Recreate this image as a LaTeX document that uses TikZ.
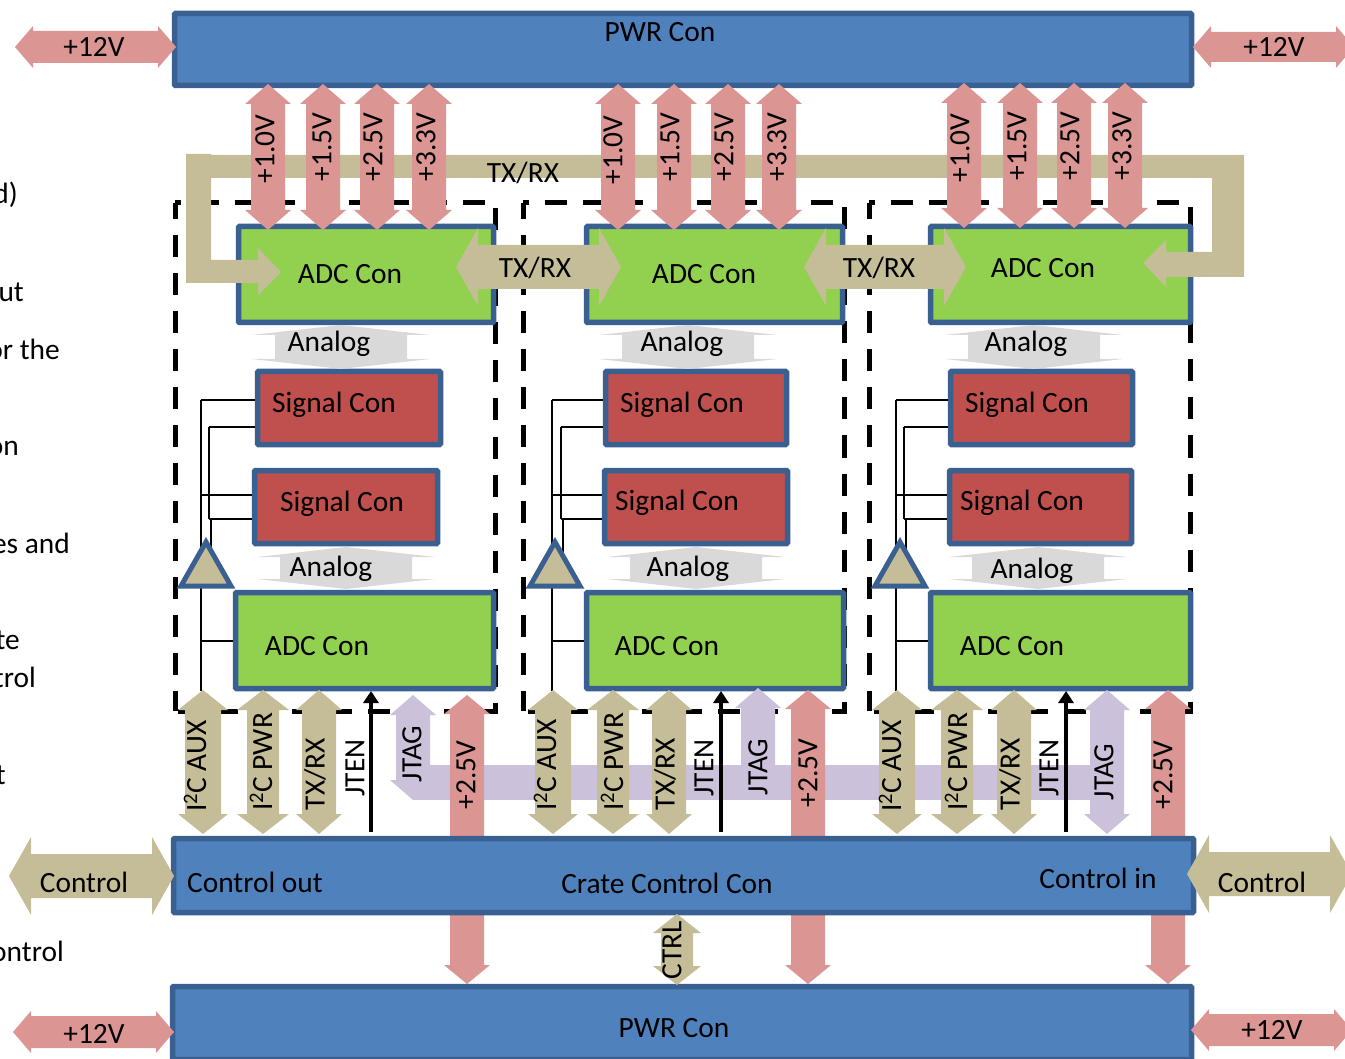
\documentclass[tikz,border=0pt]{standalone}
\usepackage{fontspec}
\setmainfont{Carlito}
\usetikzlibrary{arrows.meta}

\definecolor{conblue}{HTML}{4F81BD}
\definecolor{conedge}{HTML}{3A6091}
\definecolor{adcgreen}{HTML}{92D050}
\definecolor{sigred}{HTML}{C0504D}
\definecolor{pwrpink}{HTML}{DB9694}
\definecolor{bustan}{HTML}{C4BD97}
\definecolor{jtaglilac}{HTML}{CCC1DA}
\definecolor{analoggrey}{HTML}{D9D9D9}

\tikzset{
	conbox/.style={draw=conedge, line width=5.5pt, rounded corners=1pt, inner sep=0pt, outer sep=2.5pt},
	pwrbox/.style={conbox, fill=conblue},
	adcbox/.style={conbox, fill=adcgreen},
	sigbox/.style={conbox, fill=sigred},
	wire/.style={black, line width=2pt},
	slotline/.style={black, line width=5pt, dash pattern=on 22pt off 16pt},
	jtenline/.style={black, line width=4.5pt, -{Triangle[width=15pt,length=12pt]}},
	ampshape/.style={draw=conedge, fill=bustan, line width=5pt, miter limit=10}
}

% outer box: name, style, x1, y1, x2, y2
\newcommand{\conblock}[6]{
	\node[#2, minimum width={#5-#3-5}, minimum height={#6-#4-5}] (#1) at ({(#3+#5)/2},{(#4+#6)/2}) {};
}
% vertical arrow: x, top, bottom, shaft, head, head length, colour
\newcommand{\vboth}[7]{
	\fill[#7] (#1,#2) -- ({#1+#5},{#2+#6}) -- ({#1+#4},{#2+#6}) -- ({#1+#4},{#3-#6}) -- ({#1+#5},{#3-#6}) -- (#1,#3)
		-- ({#1-#5},{#3-#6}) -- ({#1-#4},{#3-#6}) -- ({#1-#4},{#2+#6}) -- ({#1-#5},{#2+#6}) -- cycle;
}
% horizontal arrow: y, left, right, shaft, head, head length, colour
\newcommand{\hboth}[7]{
	\fill[#7] (#2,#1) -- ({#2+#6},{#1-#5}) -- ({#2+#6},{#1-#4}) -- ({#3-#6},{#1-#4}) -- ({#3-#6},{#1-#5}) -- (#3,#1)
		-- ({#3-#6},{#1+#5}) -- ({#3-#6},{#1+#4}) -- ({#2+#6},{#1+#4}) -- ({#2+#6},{#1+#5}) -- cycle;
}

\begin{document}
\begin{tikzpicture}[x=1pt, y=-1pt, inner sep=0pt, font=\fontsize{29.4}{33}\selectfont]
	\useasboundingbox (0,0) rectangle (1345,1059);

	% Text cut by the left edge
	\foreach \n/\x/\y/\t in {a/18/195/{d)}, b/24/292/{ut}, c/60/349/{or the}, d/19/448/{on}, e/70/543/{es and},
		f/20/640/{te}, g/36/677/{trol}, h/6/775/{t}, i/64/951/{ontrol}} {
		\node[anchor=east] (side\n) at (\x,\y) {\t};
	}

	% Dashed slots
	\foreach \c/\l/\r in {1/175/495, 2/523/844, 3/869/1190} {
		\draw[slotline, dash phase=16.5pt] (\l,203) -- (\r,203) -- (\r,711) -- (\l,711);
		\draw[slotline, dash phase=2pt] (\l,711) -- (\l,203);
	}

	% Box at the top and JTAG bus behind
	\conblock{pwrtop}{pwrbox}{172}{11}{1194}{88}
	\fill[jtaglilac] (413,765) rectangle (1107,800);

	% ADC and signal boxes
	\foreach \c/\ax/\bx/\cx/\cy/\dx/\dy/\ex/\fx in {
		1/236/496/255/443/252/440/233/496,
		2/584/845/603/789/602/790/584/846,
		3/928/1193/948/1135/947/1134/928/1193} {
		\conblock{adct\c}{adcbox}{\ax}{224}{\bx}{325}
		\conblock{siga\c}{sigbox}{\cx}{369}{\cy}{447}
		\conblock{sigb\c}{sigbox}{\dx}{468}{\dy}{546}
		\conblock{adcb\c}{adcbox}{\ex}{590}{\fx}{691}
	}

	% TX/RX bus round the slots
	\fill[bustan] (186,260) -- (258,260) -- (258,248) -- (281,272) -- (258,295) -- (258,283) -- (186,283) -- (186,154)
		-- (211,154) -- (211,155) -- (1244,155) -- (1244,277) -- (1166,277) -- (1166,287) -- (1143,263)
		-- (1166,240) -- (1166,252) -- (1212,252) -- (1212,178) -- (211,178) -- (211,260) -- cycle;

	% Wires and buffers
	\foreach \c/\xa/\xb/\xt in {1/201/209/206, 2/552/561/555, 3/896/904/900} {
		\coordinate (wa\c) at (\xa,400);
		\coordinate (wb\c) at (\xb,427);
		\coordinate (wc\c) at (\xa,495);
		\coordinate (wd\c) at (\xb,519);
		\coordinate (we\c) at ({\xb+2},519);
		\coordinate (ampt\c) at (\xt,542);
		\coordinate (ampb\c) at (\xa,586);
		\coordinate (wf\c) at (\xa,641);
		\draw[wire] (wa\c) -- (wa\c -| siga\c.west);
		\draw[wire] (wb\c) -- (wb\c -| siga\c.west);
		\draw[wire] (wc\c) -- (wc\c -| sigb\c.west);
		\draw[wire] (wd\c) -- (wd\c -| sigb\c.west);
		\draw[wire] (wa\c) -- (ampb\c);
		\draw[wire] (wb\c) -- (wd\c);
		\draw[wire] (we\c) -- (we\c |- ampb\c);
		\draw[wire] (ampb\c) -- (ampb\c |- adcb\c.south);
		\draw[wire] (wf\c) -- (wf\c -| adcb\c.west);
		\draw[ampshape] (ampt\c) -- ({\xt+25},586) -- ({\xt-25},586) -- cycle;
	}

	% Analog arrows
	\foreach \x/\y/\a/\b in {341/325/369/66, 688/325/369/66, 1034/325/369/66, 346/547/589/66, 696/547/589/66, 1038/547/589/66} {
		\vboth{\x}{\y}{\a}{\b}{89}{10}{analoggrey}
	}

	% Power rails into the ADC boxes
	\foreach \x/\a/\b in {268/84/230, 323/84/230, 377/84/230, 429/84/230, 618/84/230, 674/84/230, 728/84/230, 779/84/230,
		964/83/228, 1020/83/228, 1074/83/228, 1125/83/228} {
		\vboth{\x}{\a}{\b}{17}{23}{20}{pwrpink}
	}
	\foreach \x/\a in {467/695, 808/690, 1168/690} {
		\vboth{\x}{\a}{984}{17}{23}{19}{pwrpink}
	}

	% Crate control and bottom power boxes
	\conblock{crate}{pwrbox}{171}{836}{1196}{915}
	\conblock{pwrbot}{pwrbox}{170}{984}{1194}{1062}

	% Bus arrows under the slots
	\foreach \x/\s/\h in {203/18/25, 263/16/26, 319/17/23, 553/18/25, 613/16/26, 669/17/23, 897/18/25, 957/16/26, 1014/17/23} {
		\vboth{\x}{690}{834}{\s}{\h}{20}{bustan}
	}
	\vboth{413}{695}{800}{17}{23}{20}{jtaglilac}
	\vboth{758}{688}{800}{17}{23}{20}{jtaglilac}
	\vboth{1107}{690}{834}{17}{23}{20}{jtaglilac}
	\vboth{677}{914}{985}{16}{24}{19}{bustan}
	\foreach \c/\x in {1/371, 2/721, 3/1066} {
		\coordinate (jten\c) at (\x,832);
		\draw[jtenline] (jten\c) -- (jten\c |- adcb\c.south);
	}

	% Side arrows
	\hboth{47}{15}{176}{16}{21}{18}{pwrpink}
	\hboth{47}{1193}{1354}{15}{21}{18}{pwrpink}
	\hboth{1032}{13}{174}{16}{21}{18}{pwrpink}
	\hboth{1030}{1191}{1352}{16}{21}{18}{pwrpink}
	\hboth{876}{9}{174}{22}{39}{22}{bustan}
	\hboth{874}{1187}{1352}{22}{39}{22}{bustan}

	% TX/RX between the ADC boxes
	\hboth{267}{456}{621}{22}{39}{22}{bustan}
	\hboth{267}{804}{966}{22}{39}{22}{bustan}

	% Labels on boxes
	\foreach \n/\x/\y/\t in {pa/660/32/{PWR Con}, pb/674/1028/{PWR Con}, pc/94/47/{+12V}, pd/1274/47/{+12V}, pe/94/1034/{+12V}, pf/1272/1030/{+12V},
		ca/84/882/{Control}, cb/1262/882/{Control}, cc/255/882/{Control out}, cd/667/883/{Crate Control Con}, ce/1098/878/{Control in},
		ta/523/173/{TX/RX}, tb/535/268/{TX/RX}, tc/879/268/{TX/RX},
		aa/350/274/{ADC Con}, ab/704/274/{ADC Con}, ac/1043/268/{ADC Con}, ad/317/646/{ADC Con}, ae/667/646/{ADC Con}, af/1012/646/{ADC Con},
		sa/334/405/{Signal Con}, sb/682/405/{Signal Con}, sc/1027/405/{Signal Con}, sd/342/504/{Signal Con}, se/677/503/{Signal Con}, sf/1022/503/{Signal Con},
		na/329/344/{Analog}, nb/682/344/{Analog}, nc/1026/344/{Analog}, nd/331/569/{Analog}, ne/688/569/{Analog}, nf/1032/571/{Analog}} {
		\node (lbl\n) at (\x,\y) {\t};
	}

	% Rotated labels
	\foreach \n/\x/\y/\t in {va/265/149/{+1.0V}, vb/322/147/{+1.5V}, vc/373/147/{+2.5V}, vd/426/147/{+3.3V},
		ve/613/150/{+1.0V}, vf/670/147/{+1.5V}, vg/724/147/{+2.5V}, vh/777/147/{+3.3V},
		vi/960/148/{+1.0V}, vj/1017/146/{+1.5V}, vk/1070/146/{+2.5V}, vl/1122/146/{+3.3V},
		ia/195/766/{I\textsuperscript{2}C AUX}, ib/261/762/{I\textsuperscript{2}C PWR}, ic/315/774/{TX/RX}, id/355/768/{JTEN}, ie/412/754/{JTAG}, if/466/775/{+2.5V},
		ja/545/765/{I\textsuperscript{2}C AUX}, jb/612/762/{I\textsuperscript{2}C PWR}, jc/665/774/{TX/RX}, jd/704/768/{JTEN}, je/758/767/{JTAG}, jf/808/773/{+2.5V},
		ka/890/766/{I\textsuperscript{2}C AUX}, kb/956/762/{I\textsuperscript{2}C PWR}, kc/1010/774/{TX/RX}, kd/1049/768/{JTEN}, ke/1104/772/{JTAG}, kf/1163/775/{+2.5V},
		ma/672/950/{CTRL}} {
		\node[rotate=90] (rot\n) at (\x,\y) {\t};
	}
\end{tikzpicture}
\end{document}
